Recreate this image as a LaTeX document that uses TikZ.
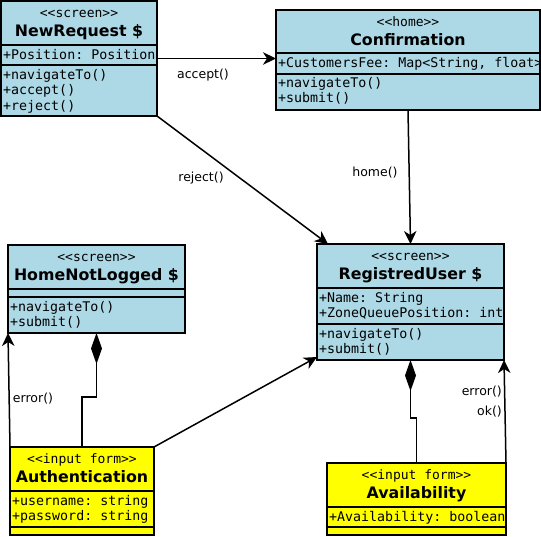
\documentclass[tikz,border=0pt]{standalone}
\usepackage{fontspec}
\setmainfont{DejaVu Sans}
\setmonofont{DejaVu Sans Mono}
\usepackage{tikz}
\usetikzlibrary{arrows.meta}

\definecolor{screenblue}{HTML}{ADD8E6}
\definecolor{formyellow}{HTML}{FFFF00}

\tikzset{
  classbox/.style={draw, line width=1.6pt, inner sep=0pt, outer sep=0pt, anchor=north west},
  stereo/.style={font=\ttfamily\fontsize{13}{15.5}\selectfont, anchor=base, inner sep=0pt},
  classname/.style={font=\bfseries\fontsize{15.8}{18}\selectfont, anchor=base, inner sep=0pt},
  member/.style={font=\ttfamily\fontsize{13.3}{15.5}\selectfont, anchor=base west, inner sep=0pt},
  msg/.style={font=\fontsize{12.5}{14}\selectfont, inner sep=0pt},
  assoc/.style={->, line width=1.5pt},
  compose/.style={-{Diamond[length=31pt,width=11pt]}, line width=1.5pt}
}

\begin{document}
\begin{tikzpicture}[x=1pt, y=-1pt, >={Stealth[length=13pt,width=12.5pt,inset=4pt]}]
    \useasboundingbox (0,0) rectangle (541,536);

    % class boxes
    \node[classbox, fill=screenblue, minimum width=156, minimum height=115] (newrequest) at (1,1) {};
    \node[classbox, fill=screenblue, minimum width=264, minimum height=100] (confirm) at (276,10) {};
    \node[classbox, fill=screenblue, minimum width=187, minimum height=116] (registred) at (317,244) {};
    \node[classbox, fill=screenblue, minimum width=177, minimum height=88] (homenl) at (8,245) {};
    \node[classbox, fill=formyellow, minimum width=144, minimum height=88] (auth) at (10,447) {};
    \node[classbox, fill=formyellow, minimum width=179, minimum height=72] (avail) at (327,463) {};

    % compartment lines
    \foreach \c/\h/\a in {newrequest/45/65, confirm/53/74, registred/288/324,
                         homenl/289/297, auth/491/527, avail/507/527}
    {
      \draw[line width=1.6pt] (\c.west |- 0,\h) -- (\c.east |- 0,\h);
      \draw[line width=1.6pt] (\c.west |- 0,\a) -- (\c.east |- 0,\a);
    }

    % headers
    \foreach \c/\s/\n in {newrequest/screen/NewRequest \$, confirm/home/Confirmation,
                         registred/screen/RegistredUser \$, homenl/screen/HomeNotLogged \$,
                         auth/input form/Authentication, avail/input form/Availability}
    {
      \node[stereo] at ([yshift=-16pt]\c.north) {<<\s>>};
      \node[classname] at ([yshift=-35pt]\c.north) {\n};
    }

    % members, one line each (15.5pt apart)
    \node[member] at (3,59) {+Position: Position};
    \foreach \t [count=\i from 0] in {+navigateTo(), +accept(), +reject()}
      \node[member] at (3,79+15.5*\i) {\t};
    \begin{scope}
      \clip (confirm.north west) rectangle (confirm.south east);
      \node[member] at (278,67) {+CustomersFee: Map<String, float>};
    \end{scope}
    \foreach \t [count=\i from 0] in {+navigateTo(), +submit()}
    {
      \node[member] at (278,87+15.5*\i) {\t};
      \node[member] at (319,338+15.5*\i) {\t};
      \node[member] at (10,311+15.5*\i) {\t};
    }
    \foreach \t [count=\i from 0] in {+Name: String, +ZoneQueuePosition: int}
      \node[member] at (319,302+15.5*\i) {\t};
    \foreach \t [count=\i from 0] in {+username: string, +password: string}
      \node[member] at (12,505+15.5*\i) {\t};
    \node[member] at (329,521) {+Availability: boolean};

    % connectors
    \draw[assoc] (newrequest.east) -- (newrequest.east -| confirm.west);
    \draw[assoc] (newrequest.south east) -- ([xshift=11pt]registred.north west);
    \draw[assoc] (confirm.south) -- (registred.north);
    \draw[assoc] (auth.north west) -- (homenl.south west);
    \draw[compose] (auth.north) -- ++(0,-50) -| (homenl.south);
    \draw[assoc] (auth.north east) -- ([yshift=3pt]registred.south west);
    \draw[compose] (avail.north) -- ++(0,-45) -| (registred.south);
    \draw[assoc] (avail.north east) -- (registred.south east);

    % messages
    \node[msg] (acceptlbl) at (203,75) {accept()};
    \node[msg] (rejectlbl) at (201,178) {reject()};
    \node[msg] (homelbl) at (375,173) {home()};
    \node[msg] (errorlbl) at (33,399) {error()};
    \node[msg, anchor=east] (errorlbltwo) at (502,392) {error()};
    \node[msg, anchor=east] (oklbl) at (502,412) {ok()};
\end{tikzpicture}
\end{document}
